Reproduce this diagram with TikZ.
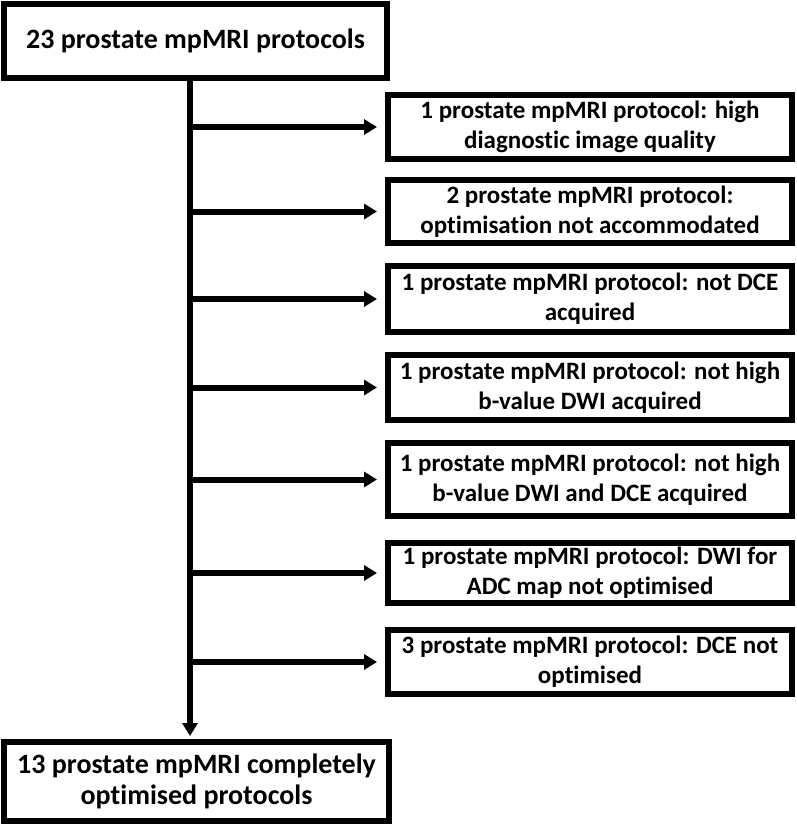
\documentclass[tikz,border=0pt]{standalone}
\usepackage{fontspec}
\setmainfont{Carlito}[Ligatures=NoCommon]
\usetikzlibrary{arrows.meta}
\tikzset{
  box/.style={draw=black, line width=6pt, fill=white, inner sep=0pt, align=center,
    font=\fontsize{28}{31}\selectfont\bfseries},
  rbox/.style={box, minimum width=404pt, font=\fontsize{25}{30}\selectfont\bfseries},
  arr/.style={line width=6pt, -{Triangle[length=13pt,width=15pt]}},
}
\begin{document}
\begin{tikzpicture}[x=1pt,y=-1pt]
\useasboundingbox (0,0) rectangle (797,827);
\node[box, minimum width=383pt, minimum height=74pt] (top) at (195.5,41) {23 prostate mpMRI protocols};
\node[rbox, minimum height=64pt] (b1) at (590,127) {1 prostate mpMRI protocol: high\\diagnostic image quality};
\node[rbox, minimum height=63pt] (b2) at (590,211.5) {2 prostate mpMRI protocol:\\optimisation not accommodated};
\node[rbox, minimum height=66pt] (b3) at (590,299) {1 prostate mpMRI protocol: not DCE\\acquired};
\node[rbox, minimum height=65pt] (b4) at (590,387.5) {1 prostate mpMRI protocol: not high\\b-value DWI acquired};
\node[rbox, minimum height=73pt] (b5) at (590,479.5) {1 prostate mpMRI protocol: not high\\b-value DWI and DCE acquired};
\node[rbox, minimum height=60pt] (b6) at (590,573) {1 prostate mpMRI protocol: DWI for\\ADC map not optimised};
\node[rbox, minimum height=64pt] (b7) at (590,662) {3 prostate mpMRI protocol: DCE not\\optimised};
\node[box, minimum width=385pt, minimum height=79pt] (bot) at (196.5,781.5) {13 prostate mpMRI completely\\optimised protocols};
\coordinate (trunk) at (190,78);
\draw[arr, shorten >=3pt] (trunk) -- (trunk |- bot.north);
\foreach \b in {b1,b2,b3,b4,b5,b6,b7}{
  \draw[arr, shorten >=8pt] (trunk |- \b.west) -- (\b.west);
}
\end{tikzpicture}
\end{document}
